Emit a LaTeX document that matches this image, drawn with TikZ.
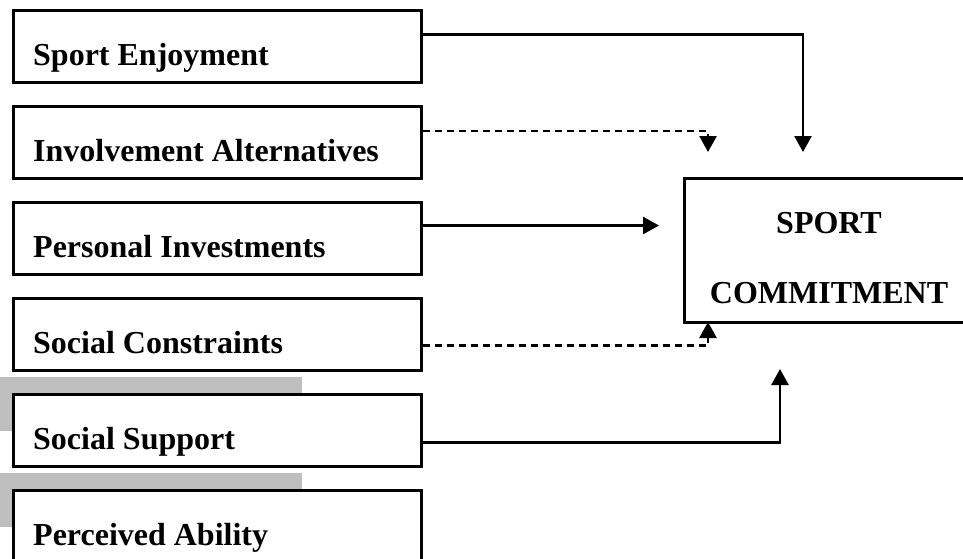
\documentclass[tikz,border=0pt]{standalone}
\usepackage{fontspec}
\setmainfont{Liberation Serif}
\usetikzlibrary{arrows.meta}
\begin{document}
\begin{tikzpicture}[x=1pt,y=-1pt,
  inbox/.style={draw=black,line width=3pt,fill=white,rectangle,inner sep=0pt,
    minimum width=408pt,minimum height=72pt,anchor=north west},
  lbl/.style={font=\fontsize{32}{38}\selectfont\bfseries,inner sep=0pt,anchor=base west},
  clbl/.style={font=\fontsize{32}{38}\selectfont\bfseries,inner sep=0pt,anchor=base},
  shade/.style={fill=black!25,draw=none},
  conn/.style={line width=2.6pt,-{Triangle[width=17pt,length=16pt]}},
  dconn/.style={conn,dash pattern=on 7pt off 5pt}]
\useasboundingbox (0,0) rectangle (963,558);
\clip (0,0) rectangle (963,558);
% grey shadow bars
\fill[shade] (0,377) rectangle (302,431);
\fill[shade] (0,473) rectangle (302,527);
% left boxes
\node[inbox] (se) at (12,9) {};
\node[inbox] (ia) at (12,105) {};
\node[inbox] (pi) at (12,201) {};
\node[inbox] (sc) at (12,297) {};
\node[inbox] (ss) at (12,393) {};
\node[inbox] (pa) at (12,489) {};
\node[lbl] (lse) at (33,65) {Sport Enjoyment};
\node[lbl] (lia) at (33,161) {Involvement Alternatives};
\node[lbl] (lpi) at (33,257) {Personal Investments};
\node[lbl] (lsc) at (33,353) {Social Constraints};
\node[lbl] (lss) at (33,449) {Social Support};
\node[lbl] (lpa) at (33,545) {Perceived Ability};
% target box
\node[draw=black,line width=3pt,fill=white,rectangle,inner sep=0pt,
  minimum width=300pt,minimum height=144pt,anchor=north west] (cm) at (683,177) {};
\node[clbl] (c1) at (829,233) {SPORT};
\node[clbl] (c2) at (829,303) {COMMITMENT};
% arrow end points
\coordinate (t1) at (803,152);
\coordinate (t2) at (708,152);
\coordinate (t3) at (659,224);
\coordinate (t4) at (708,322);
\coordinate (t5) at (780,369);
% connectors
\draw[conn] ([yshift=12pt]se.east) -| (t1);
\draw[dconn] ([yshift=11.5pt]ia.east) -| (t2);
\draw[conn] ([yshift=13pt]pi.east) coordinate (p3) -- (p3 -| t3);
\draw[dconn] ([yshift=-11pt]sc.east) -| (t4);
\draw[conn] ([yshift=-12pt]ss.east) -| (t5);
\end{tikzpicture}
\end{document}
